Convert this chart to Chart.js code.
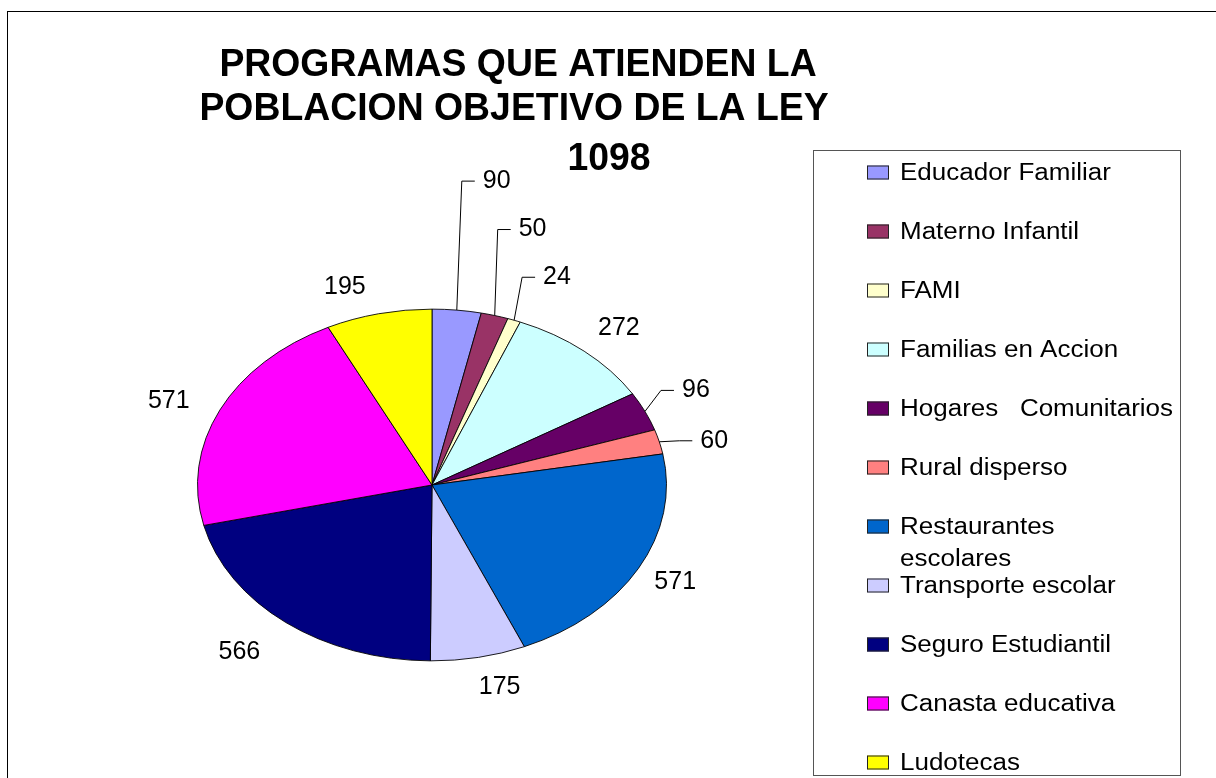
<!DOCTYPE html>
<html>
<head>
<meta charset="utf-8">
<script src="https://cdn.jsdelivr.net/npm/chart.js@4.4.1/dist/chart.umd.min.js"></script>
<style>
  html, body { margin: 0; padding: 0; background: #fff; }
  #wrap { width: 1216px; height: 778px; }
</style>
</head>
<body>
<div id="wrap"><canvas id="pie" width="1216" height="778"></canvas></div>
<script>
// chart data
const titleLines = ['PROGRAMAS QUE ATIENDEN LA', 'POBLACION OBJETIVO DE LA LEY', '1098'];
const categories = [
  'Educador Familiar',
  'Materno Infantil',
  'FAMI',
  'Familias en Accion',
  'Hogares   Comunitarios',
  'Rural disperso',
  ['Restaurantes', 'escolares'],
  'Transporte escolar',
  'Seguro Estudiantil',
  'Canasta educativa',
  'Ludotecas'
];
const values = [90, 50, 24, 272, 96, 60, 571, 175, 566, 571, 195];
const colors = ['#9999FF', '#993366', '#FFFFCC', '#CCFFFF', '#660066', '#FF8080',
                '#0066CC', '#CCCCFF', '#000080', '#FF00FF', '#FFFF00'];

const FONT = '"Liberation Sans", Arial, sans-serif';

// squash the round pie into the flat ellipse of the original
const squash = {
  id: 'squash',
  beforeDatasetsDraw(chart, args, opts) {
    const arc = chart.getDatasetMeta(0).data[0];
    const ctx = chart.ctx;
    ctx.save();
    ctx.translate(arc.x, arc.y);
    ctx.scale(1, opts.ratio);
    ctx.translate(-arc.x, -arc.y);
  },
  afterDatasetsDraw(chart) {
    chart.ctx.restore();
  }
};

// frame, title, value labels and the boxed legend
const decor = {
  id: 'decor',
  afterDraw(chart, args, o) {
    const ctx = chart.ctx;
    const meta = chart.getDatasetMeta(0);
    const ratio = chart.options.plugins.squash.ratio;
    ctx.save();

    ctx.strokeStyle = '#000';
    ctx.lineWidth = 1;
    ctx.strokeRect(7.5, 11.5, chart.width + 10, chart.height + 10);

    // title
    ctx.fillStyle = '#000';
    ctx.font = 'bold 37px ' + FONT;
    ctx.textAlign = 'center';
    ctx.textBaseline = 'alphabetic';
    titleLines.forEach((t, i) => {
      ctx.save();
      ctx.translate(o.title[i][0], o.title[i][1]);
      ctx.scale(1.01, 1.04);
      ctx.fillText(t, 0, 0);
      ctx.restore();
    });

    // value labels
    ctx.font = '25px ' + FONT;
    ctx.textBaseline = 'middle';
    meta.data.forEach((el, i) => {
      const mid = (el.startAngle + el.endAngle) / 2;
      const c = Math.cos(mid), s = Math.sin(mid);
      const rx = el.outerRadius, ry = rx * ratio;
      const px = el.x + rx * c, py = el.y + ry * s;
      const txt = String(values[i]);
      const lead = o.leaders[i];
      if (lead) {
        const tx = px + lead[0], ty = py + lead[1];
        ctx.beginPath();
        ctx.moveTo(px, py);
        ctx.lineTo(tx - 21, ty);
        ctx.lineTo(tx - 8, ty);
        ctx.strokeStyle = '#000';
        ctx.stroke();
        ctx.textAlign = 'left';
        ctx.fillText(txt, tx, ty);
      } else {
        const n = o.nudge[i] || [0, 0];
        ctx.textAlign = 'center';
        ctx.fillText(txt, el.x + (rx + o.gap[0]) * c + n[0], el.y + (ry + o.gap[1]) * s + n[1]);
      }
    });

    // legend
    const L = o.legend;
    ctx.strokeStyle = '#555';
    ctx.strokeRect(L.box[0] + 0.5, L.box[1] + 0.5, L.box[2], L.box[3]);
    ctx.font = '23px ' + FONT;
    ctx.textAlign = 'left';
    ctx.textBaseline = 'middle';
    chart.data.labels.forEach((lab, i) => {
      const y = L.top + i * L.step;
      ctx.fillStyle = colors[i];
      ctx.fillRect(L.swatchX, y - 7, 22, 14);
      ctx.strokeStyle = '#222';
      ctx.strokeRect(L.swatchX + 0.5, y - 7 + 0.5, 21, 13);
      const lines = Array.isArray(lab) ? lab : [lab];
      lines.forEach((line, j) => {
        ctx.save();
        ctx.translate(L.textX, y + 1 + j * L.wrap);
        ctx.scale(1.13, 1);
        ctx.fillStyle = '#000';
        ctx.fillText(line, 0, 0);
        ctx.restore();
      });
    });

    ctx.restore();
  }
};

new Chart(document.getElementById('pie'), {
  type: 'pie',
  data: {
    labels: categories,
    datasets: [{
      data: values,
      backgroundColor: colors,
      borderColor: '#000',
      borderWidth: 1,
      hoverOffset: 0
    }]
  },
  options: {
    responsive: false,
    animation: false,
    events: [],
    layout: { padding: { left: 197, right: 549, top: 250, bottom: 58 } },
    plugins: {
      legend: { display: false },
      tooltip: { enabled: false },
      squash: { ratio: 0.75 },
      decor: {
        title: [[518, 76], [514, 120], [609, 170]],
        gap: [52, 28],
        nudge: { 3: [1, -2], 6: [-9, 0], 7: [11, 2], 8: [-14, 8], 9: [-4, 3], 10: [-22, 1] },
        leaders: { 0: [26, -129], 1: [24, -86], 2: [29, -43], 4: [37, -21], 5: [41, -1] },
        legend: { box: [813, 150, 367, 625], top: 172.5, step: 59, wrap: 32, swatchX: 867, textX: 900 }
      }
    }
  },
  plugins: [squash, decor]
});
</script>
</body>
</html>
